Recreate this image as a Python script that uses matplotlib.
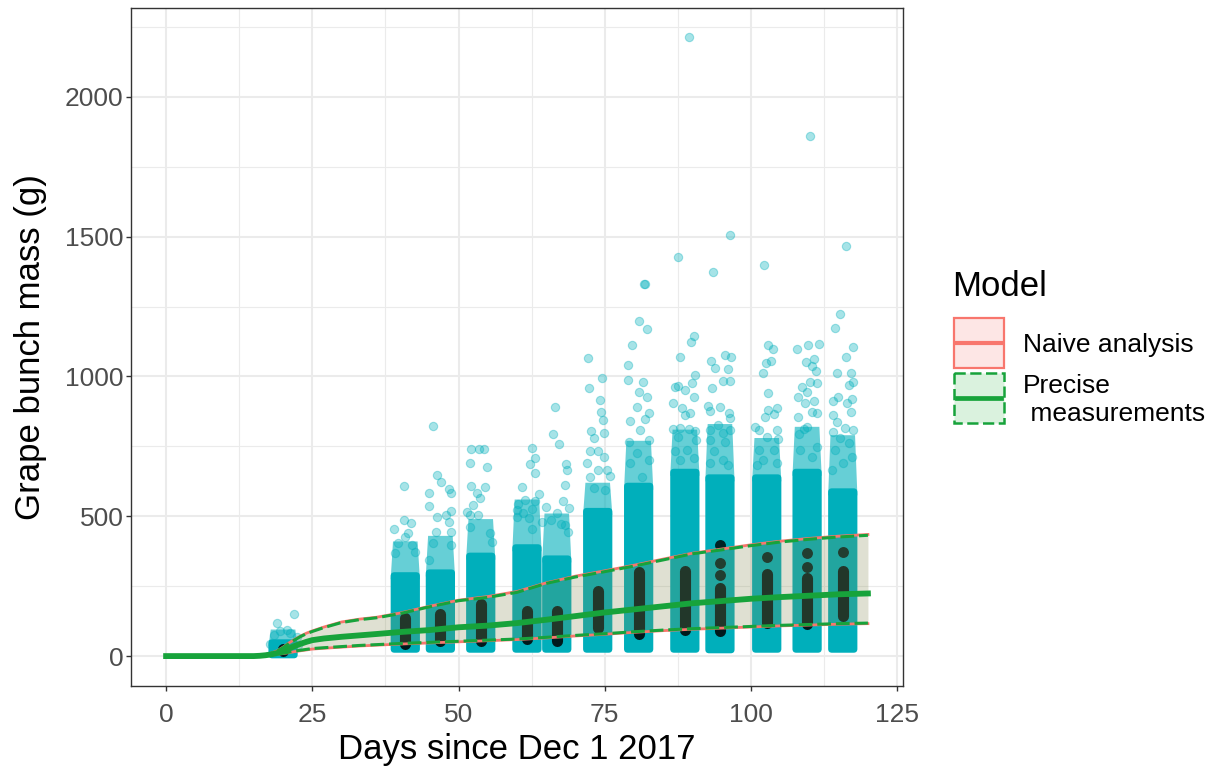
import numpy as np
import matplotlib.pyplot as plt
from matplotlib.patches import Rectangle, FancyBboxPatch, Polygon

plt.rcParams['font.family'] = ['Liberation Sans', 'DejaVu Sans']

TEAL = '#00AFBB'
RED = '#F8766D'
GREEN = '#17A33B'

# fitted growth curves (g) on a grid of days
model_day = [0, 5, 10, 15, 16, 17, 18, 19, 20, 21, 22, 23, 24, 25, 27, 30, 33, 36, 40, 45,
             50, 55, 60, 65, 70, 75, 80, 85, 90, 95, 100, 105, 110, 115, 120]
precise_mid = [0, 0, 0, 0, 1, 3, 6, 11, 18, 27, 36, 44, 51, 57, 63, 69, 74, 79, 86, 93,
               103, 109, 118, 130, 143, 156, 167, 178, 189, 197, 205, 211, 216, 221, 224]
precise_hi = [0, 0, 0, 0, 2, 5, 10, 18, 30, 45, 58, 70, 80, 88, 102, 120, 130, 137, 152, 176,
              198, 210, 228, 260, 283, 302, 322, 344, 366, 380, 395, 408, 418, 426, 432]
precise_lo = [0, 0, 0, 0, 1, 2, 4, 7, 10, 14, 18, 21, 24, 27, 30, 34, 38, 41, 45, 49,
              53, 57, 61, 67, 74, 80, 87, 93, 98, 102, 106, 110, 113, 116, 118]
naive_mid = [0, 0, 0, 0, 1, 2, 5, 10, 17, 25, 34, 42, 49, 55, 61, 67, 72, 77, 84, 91,
             101, 107, 116, 128, 141, 154, 165, 176, 187, 195, 203, 209, 214, 219, 222]
naive_hi = [0, 0, 0, 0, 2, 5, 11, 19, 32, 47, 60, 72, 82, 90, 104, 122, 132, 139, 154, 178,
            200, 213, 231, 262, 286, 305, 325, 347, 368, 383, 398, 411, 421, 429, 435]
naive_lo = [0, 0, 0, 0, 1, 2, 3, 6, 9, 12, 16, 19, 22, 25, 28, 32, 36, 39, 43, 47,
            51, 55, 59, 65, 72, 78, 85, 91, 96, 100, 104, 108, 111, 114, 116]

# sampling days and the extent of the dense part of each bunch cloud
cluster_day = [20.0, 40.9, 46.9, 53.8, 61.7, 66.8, 73.8, 80.8, 88.7, 94.7, 102.7, 109.6, 115.7]
cloud_low = [-8, 12, 12, 12, 12, 12, 12, 12, 12, 10, 12, 12, 12]
cloud_core = [60, 300, 310, 370, 400, 360, 530, 620, 670, 650, 650, 670, 600]
cloud_fringe = [95, 410, 430, 490, 560, 510, 620, 770, 810, 830, 780, 820, 790]

# precise measurements: range of the stacked points per day, plus loose ones
black_lo = [18, 42, 54, 54, 60, 54, 100, 78, 94, 90, 120, 114, 144]
black_hi = [25, 138, 150, 185, 161, 161, 233, 299, 305, 245, 293, 281, 305]
black_extra = [(94.7, 397), (94.7, 332), (94.7, 290), (102.7, 353),
               (109.6, 370), (109.6, 320), (115.7, 373)]

# individual bunches above the dense clouds
pts_20 = [(18.9, 120), (21.9, 150), (20.6, 93), (21.2, 81), (19.4, 88), (18.4, 74), (22.3, 70),
          (17.8, 45), (22.6, 40)]
pts_41 = [(40.6, 609), (38.9, 454), (40.6, 486), (41.8, 477), (41.4, 439), (40.9, 427),
          (39.7, 403), (42.0, 397), (42.6, 373), (39.2, 367)]
pts_47 = [(45.7, 824), (46.4, 648), (47.0, 624), (45.0, 582), (48.3, 596), (48.7, 584),
          (44.9, 538), (48.8, 519), (46.3, 498), (47.9, 504), (48.4, 481), (46.2, 445),
          (48.7, 445), (48.7, 397), (45.7, 403), (44.9, 343)]
pts_54 = [(52.1, 741), (53.5, 741), (54.4, 741), (52.0, 692), (54.9, 676), (52.2, 609),
          (54.6, 603), (53.2, 582), (53.7, 564), (52.5, 540), (51.9, 504), (53.4, 504),
          (55.3, 440), (55.8, 407), (52.0, 463), (51.5, 517)]
pts_62 = [(62.6, 746), (63.1, 710), (62.2, 687), (63.1, 654), (60.9, 603), (63.7, 580),
          (61.4, 558), (63.1, 555), (60.1, 544), (62.6, 525), (60.0, 522), (61.1, 510),
          (62.0, 493), (62.5, 453), (60.0, 499)]
pts_67 = [(66.5, 890), (66.2, 794), (67.1, 757), (68.3, 687), (68.6, 666), (68.2, 612),
          (67.8, 555), (68.9, 528), (66.9, 513), (65.8, 487), (68.8, 445), (67.5, 471),
          (68.2, 469), (65.0, 534), (64.3, 480)]
pts_74 = [(72.2, 1065), (74.6, 994), (72.3, 958), (74.2, 916), (74.3, 874), (74.7, 844),
          (72.6, 805), (73.2, 781), (74.8, 799), (72.5, 732), (73.9, 732), (71.9, 689),
          (74.8, 713), (73.9, 666), (75.4, 666), (72.5, 642), (75.9, 644), (73.2, 600),
          (75.1, 594)]
pts_81 = [(81.7, 1331), (81.9, 1331), (80.8, 1199), (82.2, 1169), (79.7, 1113), (79.0, 1041),
          (78.9, 987), (81.6, 981), (80.8, 946), (82.2, 928), (80.5, 892), (82.6, 870),
          (79.3, 842), (81.9, 847), (81.1, 809), (82.5, 773), (79.2, 767), (80.5, 727),
          (82.5, 701), (79.3, 689), (81.3, 642)]
pts_89 = [(89.4, 2215), (87.6, 1426), (90.2, 1145), (89.7, 1125), (87.8, 1069), (90.5, 1005),
          (87.0, 964), (87.6, 966), (89.9, 976), (88.7, 952), (90.3, 925), (86.7, 906),
          (88.2, 886), (89.6, 870), (88.7, 862), (86.7, 811), (87.9, 817), (89.4, 811),
          (90.5, 805), (90.6, 773), (87.6, 785), (87.0, 732), (89.0, 737), (90.2, 707),
          (87.9, 701)]
pts_95 = [(96.4, 1506), (93.5, 1375), (93.1, 1055), (95.6, 1077), (96.6, 1071), (93.8, 1032),
          (96.1, 1026), (95.3, 985), (96.4, 985), (93.3, 960), (92.7, 894), (94.7, 890),
          (93.0, 878), (96.3, 870), (96.4, 853), (94.3, 826), (93.0, 809), (96.5, 809),
          (95.3, 797), (93.0, 773), (95.6, 767), (93.6, 732), (95.3, 701), (96.1, 683),
          (93.0, 689)]
pts_103 = [(102.3, 1399), (102.9, 1113), (103.8, 1098), (102.5, 1049), (103.5, 1057),
           (102.0, 1014), (103.0, 940), (104.4, 888), (102.9, 880), (103.9, 865), (102.4, 854),
           (100.7, 820), (101.3, 809), (104.4, 809), (102.8, 785), (104.7, 775), (101.3, 737),
           (103.9, 737), (102.1, 701), (104.4, 689), (101.0, 683)]
pts_110 = [(110.1, 1860), (107.8, 1100), (109.7, 1113), (111.7, 1115), (110.7, 1063),
           (109.4, 1051), (110.4, 1038), (111.1, 1018), (110.1, 981), (111.3, 976), (108.7, 961),
           (109.5, 946), (108.0, 928), (110.7, 914), (109.2, 904), (110.4, 874), (111.3, 868),
           (108.0, 854), (109.1, 811), (109.5, 818), (108.2, 794), (111.3, 749), (108.4, 737),
           (110.4, 713)]
pts_116 = [(116.2, 1467), (115.3, 1224), (114.3, 1172), (117.4, 1106), (116.2, 1068),
           (114.7, 1014), (117.1, 1014), (117.4, 981), (116.7, 970), (114.1, 914), (114.9, 928),
           (117.2, 919), (116.4, 904), (114.1, 862), (117.1, 874), (114.7, 838), (116.1, 815),
           (117.4, 809), (114.1, 803), (115.3, 779), (116.7, 761), (114.4, 737), (117.2, 713),
           (115.8, 689), (113.9, 666)]

W, H = 1219, 772
fig = plt.figure(figsize=(W / 100, H / 100), dpi=100)
ax = fig.add_axes([131 / W, (H - 686) / H, (903 - 131) / W, (686 - 8) / H])
xlim = (-6, 126)
ylim = (-107, 2318)
# grams per day on screen, so rounded corners come out circular
asp = ((ylim[1] - ylim[0]) / 678) / ((xlim[1] - xlim[0]) / 772)

# dense clouds: solid core with rounded corners, fading tapered top
cloud_w = 5.0
for d, lo, core, top in zip(cluster_day, cloud_low, cloud_core, cloud_fringe):
    ax.add_patch(FancyBboxPatch((d - cloud_w / 2, lo), cloud_w, core - lo,
                                boxstyle='round,pad=0,rounding_size=0.65',
                                mutation_aspect=asp, facecolor=TEAL, linewidth=0, zorder=2))
    ax.add_patch(Polygon([(d - cloud_w / 2, core - 25), (d + cloud_w / 2, core - 25),
                          (d + cloud_w * 0.42, top), (d - cloud_w * 0.42, top)],
                         closed=True, facecolor=TEAL, alpha=0.6, linewidth=0, zorder=2))

loose = np.array(pts_20 + pts_41 + pts_47 + pts_54 + pts_62 + pts_67 + pts_74 + pts_81
                 + pts_89 + pts_95 + pts_103 + pts_110 + pts_116)
ax.scatter(loose[:, 0], loose[:, 1], s=36, color=TEAL, alpha=0.35,
           edgecolor=TEAL, linewidth=0.8, zorder=3)

# precise measurements
ax.vlines(cluster_day, black_lo, black_hi, color='black', alpha=0.85,
          linewidth=8.0, capstyle='round', zorder=4)
bx = np.array(black_extra)
ax.scatter(bx[:, 0], bx[:, 1], s=62, color='black', alpha=0.8, linewidth=0, zorder=4)

# model ribbons and lines
ax.fill_between(model_day, naive_lo, naive_hi, color=RED, alpha=0.15, linewidth=0, zorder=5)
ax.fill_between(model_day, precise_lo, precise_hi, color=GREEN, alpha=0.13, linewidth=0, zorder=5)
for ys in (naive_lo, naive_hi):
    ax.plot(model_day, ys, color=RED, linewidth=2.0, zorder=6)
ax.plot(model_day, naive_mid, color=RED, linewidth=2.2, zorder=6)
for ys in (precise_lo, precise_hi):
    ax.plot(model_day, ys, color=GREEN, linewidth=2.2, dashes=(4.5, 1.6), zorder=7)
ax.plot(model_day, precise_mid, color=GREEN, linewidth=4.2, zorder=7)

# axes styling (bw theme)
ax.set_xlim(*xlim)
ax.set_ylim(*ylim)
ax.set_xticks([0, 25, 50, 75, 100, 125])
ax.set_yticks([0, 500, 1000, 1500, 2000])
ax.set_xticks(np.arange(12.5, 126, 25), minor=True)
ax.set_yticks(np.arange(250, 2300, 500), minor=True)
ax.grid(which='major', color='#EBEBEB', linewidth=1.5)
ax.grid(which='minor', color='#EBEBEB', linewidth=0.8)
ax.set_axisbelow(True)
for sp in ax.spines.values():
    sp.set_color('#333333')
    sp.set_linewidth(1.0)
ax.tick_params(which='major', length=3.5, width=1.0, color='#333333',
               labelsize=19, labelcolor='#4D4D4D')
ax.tick_params(axis='x', pad=9)
ax.tick_params(axis='y', pad=2)
ax.tick_params(which='minor', length=0)
ax.set_xlabel('Days since Dec 1 2017', fontsize=25, labelpad=4)
ax.set_ylabel('Grape bunch mass (g)', fontsize=25, labelpad=13)

# legend, drawn in pixel space
lg = fig.add_axes([0, 0, 1, 1], zorder=10)
lg.set_xlim(0, W)
lg.set_ylim(H, 0)
lg.axis('off')
lg.text(952, 287, 'Model', fontsize=25, va='center', ha='left')
lg.add_patch(Rectangle((954, 318), 50, 50, facecolor='#FDE6E5', edgecolor=RED, linewidth=1.6))
lg.plot([957, 1001], [343, 343], color=RED, linewidth=3)
lg.add_patch(Rectangle((954, 373), 50, 50, facecolor='#DAF2DE', edgecolor=GREEN,
                       linewidth=1.8, linestyle=(0, (4.5, 1.8))))
lg.plot([957, 1001], [398, 398], color=GREEN, linewidth=3.4)
lg.text(1023, 345, 'Naive analysis', fontsize=19, va='center', ha='left')
lg.text(1023, 400, 'Precise\n measurements', fontsize=19, va='center', ha='left',
        linespacing=1.2)

fig.savefig('out.png', dpi=100)
